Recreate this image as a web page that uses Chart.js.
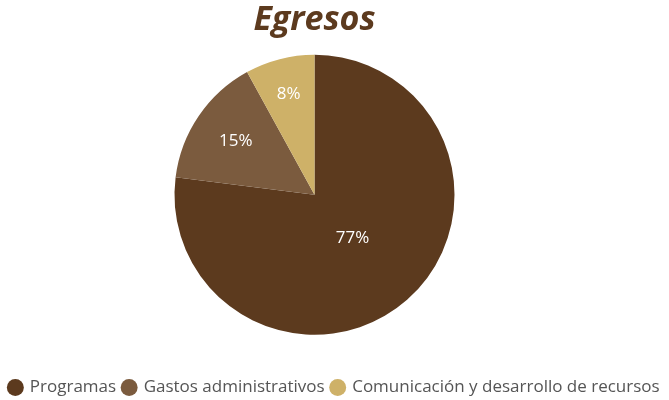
<!DOCTYPE html>
<html>
<head>
<meta charset="utf-8">
<script src="https://cdn.jsdelivr.net/npm/chart.js@4"></script>
<style>
  html, body { margin: 0; padding: 0; background: #fff; }
  #wrap { width: 669px; height: 400px; position: relative; }
</style>
</head>
<body>
<div id="wrap"><canvas id="chart"></canvas></div>
<script>
const categories = ["Programas", "Gastos administrativos", "Comunicación y desarrollo de recursos"];
const values = [77, 15, 8];
const colors = ["#5c3a1e", "#7b5b3e", "#ceb168"];

// Labels sit at different distances from the centre, like the original
const labelRadius = [0.41, 0.68, 0.74];

const pctLabelPlugin = {
  id: "pctLabelPlugin",
  afterDatasetsDraw(chart) {
    const { ctx } = chart;
    const meta = chart.getDatasetMeta(0);
    ctx.save();
    ctx.fillStyle = "#ffffff";
    ctx.font = "400 17px 'Open Sans', sans-serif";
    ctx.textAlign = "center";
    ctx.textBaseline = "middle";
    meta.data.forEach((arc, i) => {
      const mid = (arc.startAngle + arc.endAngle) / 2;
      const r = arc.outerRadius * labelRadius[i];
      ctx.fillText(values[i] + "%", arc.x + Math.cos(mid) * r, arc.y + Math.sin(mid) * r);
    });
    ctx.restore();
  },
};

// Empty box on the right: pushes the pie a bit left but leaves the legend full width
const rightSpacerPlugin = {
  id: "rightSpacerPlugin",
  beforeInit(chart) {
    Chart.layouts.addBox(chart, {
      position: "right",
      fullSize: false,
      weight: 0,
      options: {},
      width: 40,
      height: 0,
      update(maxWidth, maxHeight) {
        this.width = 40;
        this.height = maxHeight;
      },
      isHorizontal() { return false; },
      draw() {},
    });
  },
};

new Chart(document.getElementById("chart"), {
  type: "pie",
  data: {
    labels: categories,
    datasets: [{
      data: values,
      backgroundColor: colors,
      borderWidth: 0,
    }],
  },
  plugins: [rightSpacerPlugin, pctLabelPlugin],
  options: {
    responsive: true,
    maintainAspectRatio: false,
    animation: false,
    events: [],
    layout: { padding: { top: 0, right: 0, bottom: -6, left: 0 } },
    plugins: {
      tooltip: { enabled: false },
      title: {
        display: true,
        fullSize: false,
        text: "Egresos",
        color: "#5c3a1e",
        font: { family: "'Open Sans', sans-serif", size: 34, style: "italic", weight: "bold" },
        padding: { top: 0, bottom: 14 },
      },
      legend: {
        position: "bottom",
        // empty title only used as a spacer between pie and legend
        title: { display: true, text: "", font: { size: 1 }, padding: { top: 36, bottom: 0 } },
        labels: {
          usePointStyle: true,
          pointStyle: "circle",
          boxWidth: 12,
          boxHeight: 12,
          padding: 7,
          color: "#555555",
          font: { family: "'Open Sans', sans-serif", size: 17 },
        },
      },
    },
  },
});
</script>
</body>
</html>
